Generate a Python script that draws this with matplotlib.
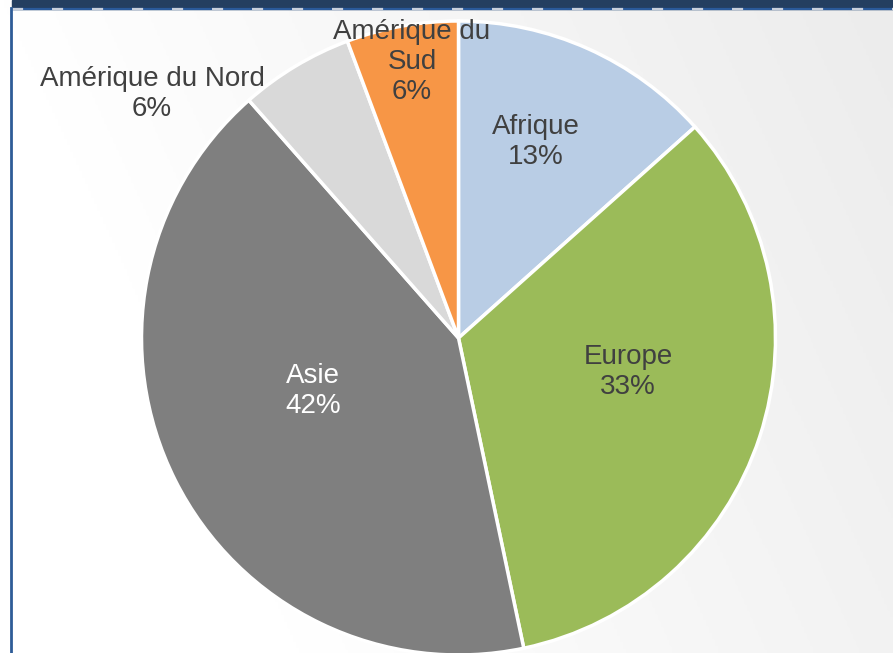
import numpy as np
import matplotlib.pyplot as plt
from matplotlib.colors import LinearSegmentedColormap
from matplotlib.patches import Rectangle

# Part de chaque région (%)
regions = ["Afrique", "Europe", "Asie", "Amérique du Nord", "Amérique du\nSud"]
parts = [13.4, 33.3, 41.8, 5.8, 5.7]
colors = ["#B9CDE5", "#9BBB59", "#7F7F7F", "#D9D9D9", "#F79646"]
label_colors = ["#404040", "#404040", "#FFFFFF", "#404040", "#404040"]

W, H = 893, 653
plt.rcParams['font.family'] = ['Liberation Sans', 'DejaVu Sans']

fig = plt.figure(figsize=(W / 100, H / 100), dpi=100)
ax = fig.add_axes([0, 0, 1, 1])

# fond en dégradé (blanc à gauche, gris clair à droite)
gx = np.linspace(0, 1, 300)
gy = np.linspace(0, 1, 200)
grad = np.clip(0.75 * gx[None, :] + 0.25 * gy[:, None] - 0.25, 0, 1)
cmap = LinearSegmentedColormap.from_list("bg", ["#FFFFFF", "#ECECEC"])
ax.imshow(grad, cmap=cmap, extent=[0, W, 0, H], origin='lower', aspect='auto', zorder=0)

# bandeau du haut et bordure gauche
ax.add_patch(Rectangle((12, H - 9), W, 9, color="#243F60", zorder=1, clip_on=False))
ax.plot([12, W], [H - 9, H - 9], color="#2A5A9A", lw=1.6, zorder=2, solid_capstyle='butt')
ax.plot([12, W], [H - 9, H - 9], color="#C8D0DC", lw=1.6, zorder=3,
        dashes=(5, 13), dash_capstyle='butt')
ax.plot([10.5, 10.5], [0, H - 8], color="#2E5C97", lw=2, zorder=3)

cx, cy, r = 458.5, H - 338, 317
wedges, _ = ax.pie(parts, colors=colors, startangle=90, counterclock=False,
                   center=(cx, cy), radius=r, frame=True,
                   wedgeprops=dict(edgecolor='white', linewidth=2.5))
for w in wedges:
    w.set_zorder(4)
ax.set_xlim(0, W)
ax.set_ylim(0, H)
ax.axis('off')

# positions des étiquettes (pixels de l'image)
label_pos = [(536, 142), (628, 372), (313, 391), (152, 94), (412, 62)]
for name, p, (lx, ly), tc in zip(regions, parts, label_pos, label_colors):
    ax.text(lx, H - ly, f"{name}\n{round(p):.0f}%", ha='center', va='center',
            fontsize=20, color=tc, linespacing=1.22, zorder=6)

fig.savefig("out.png", dpi=100)
